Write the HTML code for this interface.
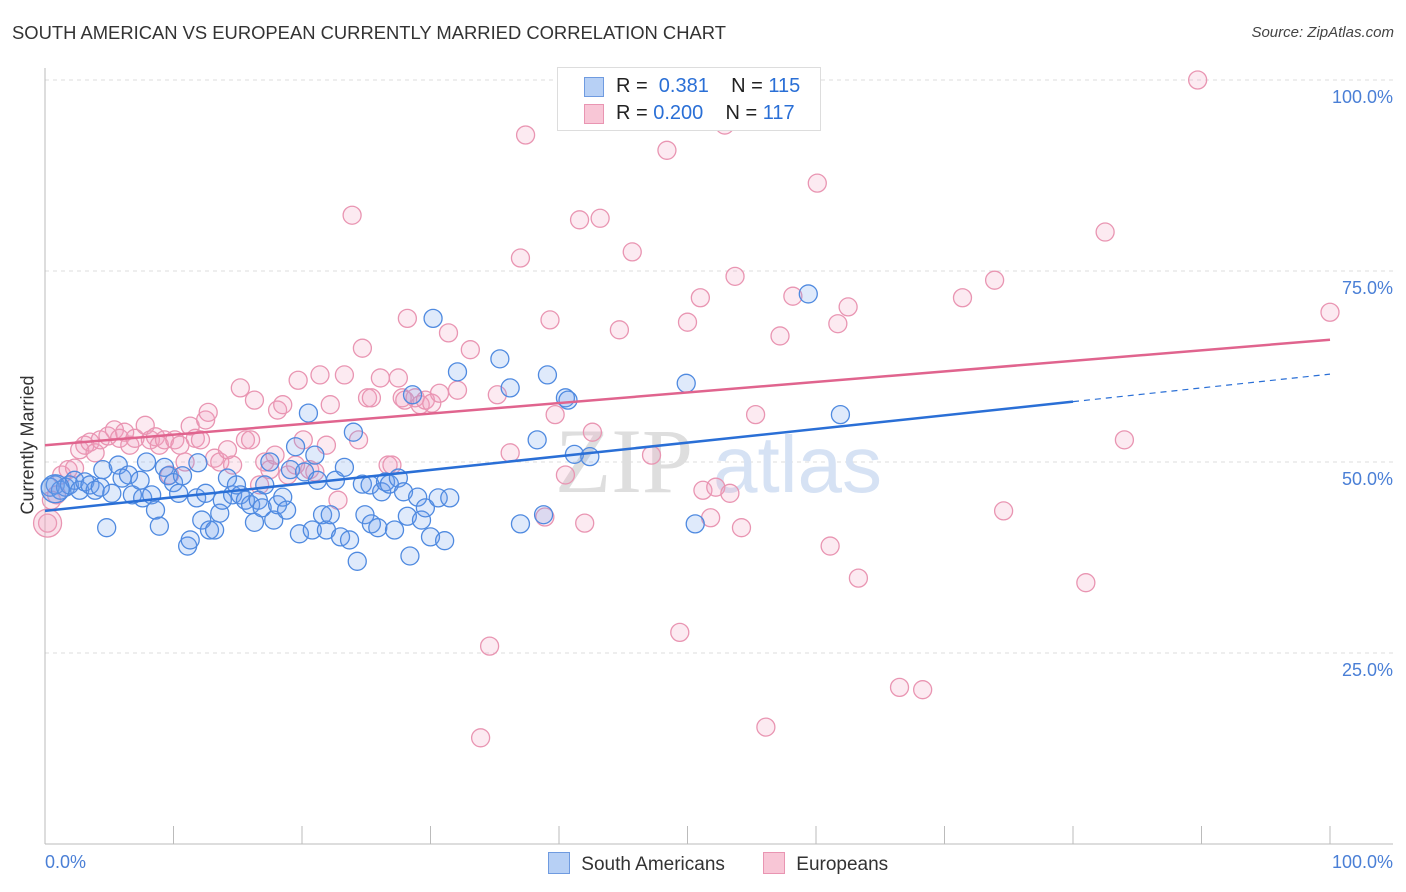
<!DOCTYPE html>
<html><head><meta charset="utf-8">
<style>
body{margin:0;background:#fff;font-family:"Liberation Sans",sans-serif;}
#wrap{position:relative;width:1406px;height:892px;}
.t{position:absolute;white-space:nowrap;}
</style></head>
<body>
<div id="wrap">
<div class="t" style="left:12px;top:22px;font-size:18.4px;color:#333;">SOUTH AMERICAN VS EUROPEAN CURRENTLY MARRIED CORRELATION CHART</div>
<div class="t" style="right:12px;top:24px;font-size:15px;color:#444;font-style:italic;">Source: ZipAtlas.com</div>
<svg id="svg" width="1406" height="892" style="position:absolute;left:0;top:0"></svg>
</div>
<script>
const yTicks=[25,50,75,100];
const yTickLabels=["25.0%","50.0%","75.0%","100.0%"];
const xTickVals=[0,10,20,30,40,50,60,70,80,90,100];
const blueX=[0.4,0.8,1.2,1.6,1.9,2.3,2.7,3.1,3.5,3.9,4.3,4.5,4.8,5.2,5.7,6.0,6.5,6.8,7.4,7.6,7.9,8.3,8.6,8.9,9.3,9.6,10.0,10.4,10.7,11.1,11.3,11.8,11.9,12.2,12.5,12.8,13.2,13.6,13.8,14.2,14.6,14.9,15.2,15.6,16.0,16.3,16.6,16.9,17.1,17.5,17.8,18.1,18.5,18.8,19.1,19.5,19.8,20.2,20.5,20.8,21.0,21.2,21.6,21.9,22.2,22.6,23.0,23.3,23.7,24.0,24.3,24.7,24.9,25.3,25.4,25.9,26.2,26.5,26.8,27.2,27.5,27.9,28.2,28.4,28.6,29.0,29.3,29.6,30.0,30.2,30.6,31.1,31.5,32.1,35.4,36.2,37.0,38.3,38.8,39.1,40.5,40.7,41.2,42.4,49.9,50.6,59.4,61.9];
const blueY=[46.7,47.0,46.3,46.7,47.0,47.6,46.3,47.4,47.0,46.3,46.7,49.0,41.4,45.9,49.6,47.9,48.3,45.7,47.6,45.3,50.0,45.7,43.7,41.6,49.3,48.2,47.3,45.9,48.2,39.0,39.8,45.3,49.9,42.4,45.9,41.1,41.1,43.3,45.0,47.9,45.7,47.0,45.7,45.0,44.4,42.1,45.0,44.0,47.0,50.0,42.4,44.4,45.4,43.7,49.0,52.0,40.6,48.7,56.4,41.1,50.9,47.6,43.1,41.1,43.1,47.6,40.2,49.3,39.8,53.9,37.0,47.1,43.1,47.0,41.9,41.4,46.1,47.4,47.1,41.1,47.9,46.1,42.9,37.7,58.8,45.4,42.4,44.0,40.2,68.8,45.3,39.7,45.3,61.8,63.5,59.7,41.9,52.9,43.1,61.4,58.4,58.1,51.0,50.7,60.3,41.9,72.0,56.2];
const pinkX=[0.2,0.5,0.9,1.3,1.8,2.3,2.7,3.1,3.5,3.9,4.3,4.9,5.4,5.8,6.2,6.6,7.0,7.8,8.2,8.6,8.9,9.3,9.7,10.1,10.5,10.9,11.3,11.7,12.1,12.5,12.7,13.2,13.6,14.2,14.6,15.2,15.6,16.0,16.3,16.7,17.1,17.5,17.9,18.1,18.5,18.9,19.5,19.7,20.1,20.6,21.0,21.4,21.9,22.2,22.8,23.3,23.9,24.4,24.7,25.1,25.4,26.1,26.7,27.0,27.5,27.8,28.0,28.2,28.8,29.2,29.6,30.1,30.7,31.4,32.1,33.1,33.9,34.6,35.2,36.2,37.0,37.4,38.9,39.3,39.7,40.5,41.6,42.0,42.6,43.2,44.7,45.7,47.2,48.4,49.4,50.0,51.0,51.2,51.8,52.2,52.9,53.3,53.7,54.2,55.3,56.1,57.2,58.2,60.1,61.1,61.7,62.5,63.3,66.5,68.3,71.4,73.9,74.6,81.0,82.5,84.0,89.7,100.0];
const pinkY=[42.0,45.0,45.7,48.3,49.0,49.2,51.6,52.2,52.6,51.2,52.9,53.4,54.2,53.1,53.9,52.2,53.1,54.8,52.9,53.3,52.2,52.9,48.3,52.9,52.2,50.0,54.7,53.1,52.9,55.5,56.5,50.5,50.0,51.6,49.6,59.7,52.9,52.9,58.1,47.0,50.0,49.0,50.9,56.8,57.5,48.3,49.6,60.7,52.9,49.0,48.7,61.4,52.2,57.5,45.0,61.4,82.3,52.9,64.9,58.4,58.4,61.0,49.6,49.6,61.0,58.4,58.1,68.8,58.4,57.5,58.1,57.7,59.0,66.9,59.4,64.7,13.9,25.9,58.8,51.2,76.7,92.8,42.8,68.6,56.2,48.3,81.7,42.0,53.9,81.9,67.3,77.5,50.9,90.8,27.7,68.3,71.5,46.3,42.7,46.7,94.1,45.9,74.3,41.4,56.2,15.3,66.5,71.7,86.5,39.0,68.1,70.3,34.8,20.5,20.2,71.5,73.8,43.6,34.2,80.1,52.9,100.0,69.6];
const blueLine=[[0,43.6],[80,57.9]], blueDash=[[80,57.9],[100,61.5]];
const pinkLine=[[0,52.2],[100,66.0]];

const X0=45,X1=1330,Y0=844,Y1=80;
const sx=v=>X0+(X1-X0)*v/100, sy=v=>Y0-(Y0-Y1)*v/100;
const svg=document.getElementById('svg');const NS='http://www.w3.org/2000/svg';
function mk(tag,attrs,parent){const e=document.createElementNS(NS,tag);for(const k in attrs)e.setAttribute(k,attrs[k]);(parent||svg).appendChild(e);return e;}

yTicks.forEach((v,i)=>{
 const g=mk('line',{x1:X0,x2:1393,y1:sy(v),y2:sy(v),stroke:'#ddd','stroke-dasharray':'4,4'});
 
 
 const t=mk('text',{x:1393,y:sy(v)+23,'text-anchor':'end','font-size':'18',fill:'#4a7fd6','font-family':'Liberation Sans, sans-serif'});
 t.textContent=yTickLabels[i];
 
 
});
const ya=mk('line',{x1:X0,x2:X0,y1:68,y2:Y0,stroke:'#bbb'});


const xa=mk('line',{x1:X0,x2:1393,y1:Y0,y2:Y0,stroke:'#bbb'});


xTickVals.forEach(v=>{
 const l=mk('line',{x1:sx(v),x2:sx(v),y1:Y0,y2:Y0-18,stroke:'#bbb'});
 
 
});
const wm=mk('text',{x:555,y:492,'font-size':'92','font-family':'Liberation Serif, serif',fill:'#dedede'});
wm.textContent='ZIP';


const wm2=mk('text',{x:713,y:492,'font-size':'80','font-family':'Liberation Sans, sans-serif',fill:'#d6e2f4'});
wm2.textContent='atlas';



function dots(xs,ys,stroke,fill,name){
 xs.forEach((x,i)=>{
  const c=mk('circle',{cx:sx(x),cy:sy(ys[i]),r:9,fill:fill,stroke:stroke,'stroke-width':1.3});
  
  
 });
}
dots(pinkX,pinkY,'#e995b2','rgba(240,160,190,0.22)','european-point');
dots(blueX,blueY,'#4f8ae0','rgba(110,160,235,0.22)','south-american-point');
const big=mk('circle',{cx:sx(0.8),cy:sy(46.5),r:14,fill:'rgba(110,160,235,0.3)',stroke:'#4f8ae0','stroke-width':1.3});


const bigp=mk('circle',{cx:sx(0.2),cy:sy(42.0),r:14,fill:'rgba(240,160,190,0.3)',stroke:'#e995b2','stroke-width':1.3});



const bl=mk('line',{x1:sx(blueLine[0][0]),y1:sy(blueLine[0][1]),x2:sx(blueLine[1][0]),y2:sy(blueLine[1][1]),stroke:'#2a6fd6','stroke-width':2.5});


const bd=mk('line',{x1:sx(blueDash[0][0]),y1:sy(blueDash[0][1]),x2:sx(blueDash[1][0]),y2:sy(blueDash[1][1]),stroke:'#2a6fd6','stroke-width':1.2,'stroke-dasharray':'6,5'});


const pl=mk('line',{x1:sx(pinkLine[0][0]),y1:sy(pinkLine[0][1]),x2:sx(pinkLine[1][0]),y2:sy(pinkLine[1][1]),stroke:'#e0648e','stroke-width':2.5});


</script>

<div class="t" style="left:-32px;top:444px;font-size:18px;color:#333;transform:rotate(-90deg);transform-origin:center;width:120px;text-align:center;">Currently Married</div>
<div class="t" style="left:45px;top:852px;font-size:18px;color:#4a7fd6;">0.0%</div>
<div class="t" style="right:13px;top:852px;font-size:18px;color:#4a7fd6;">100.0%</div>

<div style="position:absolute;left:557px;top:67px;width:262px;height:62px;border:1px solid #ddd;background:#fff;font-size:20px;color:#222;">
 <div style="position:absolute;left:26px;top:9px;width:18px;height:18px;background:#b7d0f5;border:1px solid #6f9be0;"></div>
 <div class="t" style="left:58px;top:7px;">R = &nbsp;<span style="color:#2a6fd6">0.381</span>&nbsp;&nbsp;&nbsp; N = <span style="color:#2a6fd6">115</span></div>
 <div style="position:absolute;left:26px;top:36px;width:18px;height:18px;background:#f8c6d6;border:1px solid #e995b2;"></div>
 <div class="t" style="left:58px;top:34px;">R = <span style="color:#2a6fd6">0.200</span>&nbsp;&nbsp;&nbsp; N = <span style="color:#2a6fd6">117</span></div>
</div>

<div style="position:absolute;left:548px;top:852px;font-size:19px;color:#333;">
 <div style="position:absolute;left:0;top:0;white-space:nowrap;"><span style="display:inline-block;width:20px;height:20px;background:#b7d0f5;border:1px solid #6f9be0;vertical-align:-4px;margin-right:6px;"></span> South Americans</div>
 <div style="position:absolute;left:215px;top:0;white-space:nowrap;"><span style="display:inline-block;width:20px;height:20px;background:#f8c6d6;border:1px solid #e995b2;vertical-align:-4px;margin-right:6px;"></span> Europeans</div>
</div>
</body></html>
